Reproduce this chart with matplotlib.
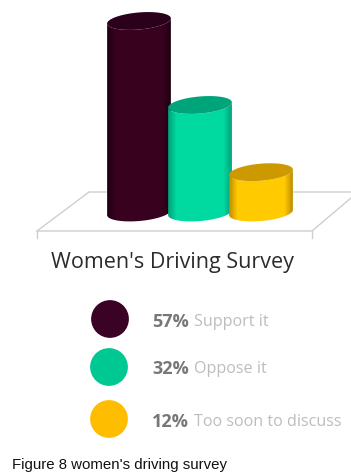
import matplotlib
matplotlib.use("Agg")
import matplotlib.pyplot as plt
import numpy as np
from matplotlib.colors import LinearSegmentedColormap
from matplotlib.patches import PathPatch
from matplotlib.path import Path

labels = ["Support it", "Oppose it", "Too soon to discuss"]
values = [57, 32, 12]
face_colors = ["#38021f", "#00d9a0", "#ffca00"]
edge_colors = ["#1a0011", "#009a74", "#b58600"]
top_colors = ["#2a001b", "#00a47a", "#cc9a00"]
dot_colors = ["#3a0326", "#00c893", "#ffbd00"]

W, H = 351, 473
PX_PER_PCT = 3.36
BASE_Y = 212.5
bar_x = [139, 200, 261]
RX, RY, TILT = 32, 8.5, np.radians(5)

fig = plt.figure(figsize=(W / 100, H / 100), dpi=100, facecolor="white")

# floor, title and legend are placed in pixel coordinates
ax = fig.add_axes([0, 0, 1, 1])
ax.set_xlim(0, W)
ax.set_ylim(H, 0)
ax.axis("off")

floor = "#cfcfcf"
ax.plot([37, 89, 351], [231, 192, 192], color=floor, lw=1)
ax.plot([37, 312, 351], [231, 231, 198], color=floor, lw=1)
ax.plot([37, 37], [231, 238], color=floor, lw=1)
ax.plot([312, 312], [231, 238], color=floor, lw=1)

ax.text(172, 262, "Women's Driving Survey", ha="center", va="center",
        fontsize=15.5, color="#2b2b2b", family="Open Sans")

legend_y = [319, 367, 419]
text_y = [322, 369, 422]
ax.scatter([110, 109, 109], legend_y, s=740, c=dot_colors, linewidths=0)
for y, v, lab in zip(text_y, values, labels):
    t = ax.text(152, y, f"{v}%", ha="left", va="center", fontsize=13,
                fontweight="bold", color="#777777", family="Open Sans")
    ax.annotate(lab, xy=(1, 0.5), xycoords=t, xytext=(4, 0),
                textcoords="offset points", ha="left", va="center",
                fontsize=11.6, color="#bdbdbd", family="Open Sans")

ax.text(12, 465, "Figure 8 women's driving survey", ha="left", va="center",
        fontsize=10.8, color="#111111", family="Liberation Sans")

# bars live on a percent scale, y = 0 at the floor
ax3 = fig.add_axes([0, 0, 1, 1])
ax3.set_xlim(0, W)
ax3.set_ylim((BASE_Y - H) / PX_PER_PCT, BASE_Y / PX_PER_PCT)
ax3.axis("off")
ax3.patch.set_alpha(0)


def ellipse(cx, cy, t):
    # cy in percent, tilted so the right side sits a little higher
    ex = RX * np.cos(t) * np.cos(TILT) - RY * np.sin(t) * np.sin(TILT)
    ey = RX * np.cos(t) * np.sin(TILT) + RY * np.sin(t) * np.cos(TILT)
    return cx + ex, cy + ey / PX_PER_PCT


for i, (cx, v) in enumerate(zip(bar_x, values)):
    t = np.linspace(0, 2 * np.pi, 120)
    lower = np.linspace(np.pi, 2 * np.pi, 60)
    bx, by = ellipse(cx, 0, lower)
    tx, ty = ellipse(cx, v, lower[::-1])
    body = np.column_stack([np.r_[bx, tx], np.r_[by, ty]])
    clip = PathPatch(Path(np.r_[body, body[:1]], closed=True), fc="none", ec="none",
                     transform=ax3.transData)
    ax3.add_patch(clip)

    # dark only along the cylinder's edges
    cmap = LinearSegmentedColormap.from_list(
        "cyl", [(0, edge_colors[i]), (0.14, face_colors[i]), (0.86, face_colors[i]),
                (1, edge_colors[i])])
    grad = np.linspace(0, 1, 128).reshape(1, -1)
    ymin, ymax = ax3.get_ylim()
    im = ax3.imshow(grad, cmap=cmap, aspect="auto", zorder=2 + i,
                    extent=[cx - RX - 1, cx + RX + 1, ymin, ymax], interpolation="bilinear")
    im.set_clip_path(clip)

    ex, ey = ellipse(cx, v, t)
    ax3.fill(ex, ey, color=top_colors[i], lw=0, zorder=2 + i)

ax3.set_xlim(0, W)
ax3.set_ylim((BASE_Y - H) / PX_PER_PCT, BASE_Y / PX_PER_PCT)

fig.savefig("out.png", dpi=100)
